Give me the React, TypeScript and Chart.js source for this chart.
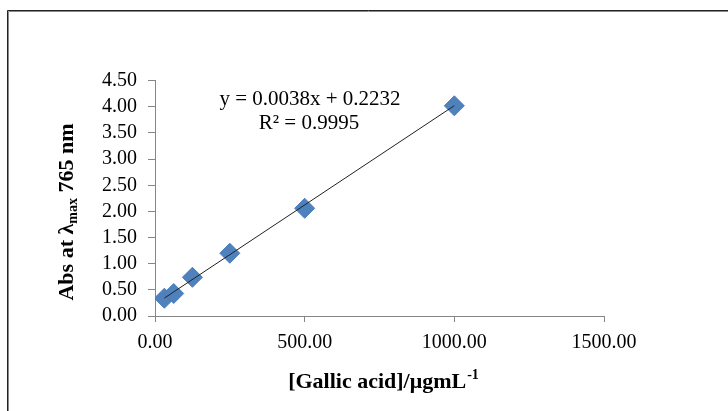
import { useEffect, useRef } from "react";
import { Chart, registerables } from "chart.js";

Chart.register(...registerables);

// ---- data ----
const concentrations = [31.25, 62.5, 125, 250, 500, 1000];
const absorbances = [0.34, 0.43, 0.74, 1.2, 2.06, 4.02];
const trendSlopeIntercept = [0.0038, 0.2232];
const xTickValues = [0, 500, 1000, 1500];
const yTickValues = [0, 0.5, 1, 1.5, 2, 2.5, 3, 3.5, 4, 4.5];
const equationLines = ["y = 0.0038x + 0.2232", "R\u00b2 = 0.9995"];
const yTitleParts = ["Abs at \u03bb", "max", " 765 nm"];
const xTitleParts = ["[Gallic acid]/\u03bcgmL", "-1"];

const SERIF = "'Liberation Serif', 'Times New Roman', serif";
const AXIS_COLOR = "#868686";

const decorPlugin = {
  id: "decor",
  beforeDraw(chart: any) {
    const ctx = chart.ctx;
    ctx.save();
    ctx.fillStyle = "#ffffff";
    ctx.fillRect(0, 0, chart.width, chart.height);
    // outer frame (top + left visible)
    ctx.strokeStyle = "#222222";
    ctx.lineWidth = 1;
    ctx.beginPath();
    ctx.moveTo(7.5, chart.height + 5);
    ctx.lineTo(7.5, 10.5);
    ctx.lineTo(chart.width + 5, 10.5);
    ctx.stroke();
    ctx.strokeStyle = "#8a8a8a";
    ctx.beginPath();
    ctx.moveTo(8.5, chart.height + 5);
    ctx.lineTo(8.5, 11.5);
    ctx.lineTo(chart.width + 5, 11.5);
    ctx.stroke();
    ctx.restore();
  },
  afterDraw(chart: any) {
    const ctx = chart.ctx;
    const area = chart.chartArea;
    ctx.save();
    ctx.fillStyle = "#000000";

    // equation
    ctx.font = `21px ${SERIF}`;
    ctx.textAlign = "center";
    ctx.textBaseline = "middle";
    ctx.fillText(equationLines[0], area.left + 155, 99);
    ctx.fillText(equationLines[1], area.left + 154, 123);

    // x title with superscript
    const mainFont = `bold 22px ${SERIF}`;
    const smallFont = `bold 14px ${SERIF}`;
    ctx.textAlign = "left";
    ctx.textBaseline = "alphabetic";
    ctx.font = mainFont;
    const w1 = ctx.measureText(xTitleParts[0]).width;
    ctx.font = smallFont;
    const w2 = ctx.measureText(xTitleParts[1]).width;
    const x = 383 - (w1 + w2) / 2;
    const base = 388;
    ctx.font = mainFont;
    ctx.fillText(xTitleParts[0], x, base);
    ctx.font = smallFont;
    ctx.fillText(xTitleParts[1], x + w1 + 1, base - 9);

    // y title rotated with subscript
    ctx.translate(73, 212);
    ctx.rotate(-Math.PI / 2);
    ctx.font = mainFont;
    const a = ctx.measureText(yTitleParts[0]).width;
    const c = ctx.measureText(yTitleParts[2]).width;
    ctx.font = smallFont;
    const b = ctx.measureText(yTitleParts[1]).width;
    let px = -(a + b + c) / 2;
    ctx.font = mainFont;
    ctx.fillText(yTitleParts[0], px, 0);
    px += a;
    ctx.font = smallFont;
    ctx.fillText(yTitleParts[1], px, 4);
    px += b;
    ctx.font = mainFont;
    ctx.fillText(yTitleParts[2], px, 0);
    ctx.restore();
  },
};

export default function App() {
  const ref = useRef<HTMLCanvasElement | null>(null);

  useEffect(() => {
    if (!ref.current) return;
    const xMin = Math.min(...concentrations);
    const xMax = Math.max(...concentrations);
    const [slope, intercept] = trendSlopeIntercept;
    const trend = [xMin, xMax].map((v) => ({ x: v, y: slope * v + intercept }));
    const points = concentrations.map((v, i) => ({ x: v, y: absorbances[i] }));

    const chart = new Chart(ref.current, {
      type: "scatter",
      data: {
        datasets: [
          {
            label: "Abs",
            data: points,
            pointStyle: "rectRot",
            pointRadius: 10,
            pointBackgroundColor: "#4F81BD",
            pointBorderColor: "#4A7EBB",
            pointBorderWidth: 1,
            order: 2,
          },
          {
            type: "line",
            label: "Linear",
            data: trend,
            borderColor: "#222222",
            borderWidth: 1,
            pointRadius: 0,
            fill: false,
            order: 1,
          },
        ],
      } as any,
      plugins: [decorPlugin],
      options: {
        animation: false,
        responsive: false,
        devicePixelRatio: 1,
        layout: { padding: { left: 0, top: 80.7, right: 124, bottom: 0 } },
        plugins: {
          legend: { display: false },
          tooltip: { enabled: false },
        },
        scales: {
          x: {
            type: "linear",
            min: 0,
            max: 1500,
            afterBuildTicks: (s: any) => {
              s.ticks = xTickValues.map((v) => ({ value: v }));
            },
            afterFit: (s: any) => {
              s.height = 95;
              s.paddingLeft = 0;
              s.paddingRight = 0;
            },
            ticks: {
              color: "#000",
              font: { family: SERIF, size: 20 },
              padding: 9,
              maxRotation: 0,
              autoSkip: false,
              callback: (v: any) => Number(v).toFixed(2),
            },
            grid: {
              drawOnChartArea: false,
              drawTicks: true,
              tickLength: 6,
              color: AXIS_COLOR,
            },
            border: { display: true, color: AXIS_COLOR, width: 1 },
          },
          y: {
            type: "linear",
            min: 0,
            max: 4.5,
            afterBuildTicks: (s: any) => {
              s.ticks = yTickValues.map((v) => ({ value: v }));
            },
            afterFit: (s: any) => {
              s.width = 155;
              s.paddingTop = 0;
              s.paddingBottom = 0;
            },
            ticks: {
              color: "#000",
              font: { family: SERIF, size: 20 },
              padding: 11,
              autoSkip: false,
              callback: (v: any) => Number(v).toFixed(2),
            },
            grid: {
              drawOnChartArea: false,
              drawTicks: true,
              tickLength: 7,
              color: AXIS_COLOR,
            },
            border: { display: true, color: AXIS_COLOR, width: 1 },
          },
        },
      } as any,
    });
    return () => chart.destroy();
  }, []);

  return (
    <div style={{ position: "absolute", left: 0, top: 0, width: 728, height: 411, background: "#fff" }}>
      <canvas ref={ref} width={728} height={411} style={{ display: "block" }} />
    </div>
  );
}
